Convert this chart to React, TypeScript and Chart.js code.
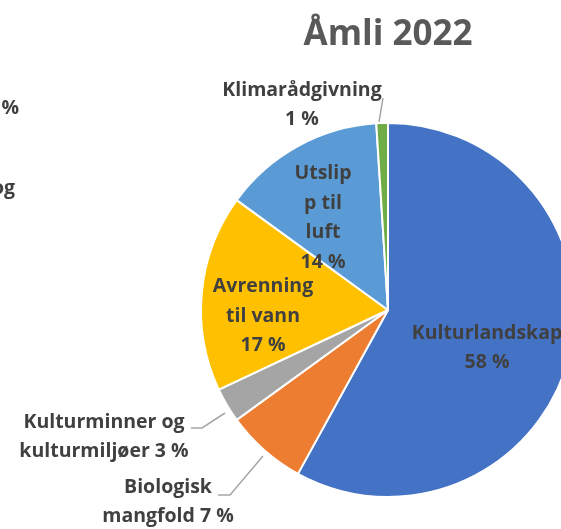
import React, { useEffect, useRef } from "react";
import { Chart, registerables } from "chart.js";

Chart.register(...registerables);

// ---- data ----
const chartTitle = "Åmli 2022";
const categories = [
  "Kulturlandskap",
  "Biologisk mangfold",
  "Kulturminner og kulturmiljøer",
  "Avrenning til vann",
  "Utslipp til luft",
  "Klimarådgivning",
];
const shares = [58, 7, 3, 17, 14, 1];
const sliceColors = ["#4472C4", "#ED7D31", "#A5A5A5", "#FFC000", "#5B9BD5", "#70AD47"];
// label text lines (the percentage is appended to the last line or put on its own line)
const labelText = [
  ["Kulturlandskap"],
  ["Biologisk", "mangfold"],
  ["Kulturminner og", "kulturmiljøer"],
  ["Avrenning", "til vann"],
  ["Utslip", "p til", "luft"],
  ["Klimarådgivning"],
];
const pctOwnLine = [true, false, false, true, true, true];
// fragments of a neighbouring chart, cut by the left edge
const edgeFragments = ["%", "og"];

// ---- layout (reference geometry: centre 388,310, radius 187) ----
const REF = { x: 388, y: 310, r: 187 };
const labelAnchors: [number, number][] = [
  [487, 348],
  [168, 502],
  [104, 437],
  [263, 316],
  [323, 218],
  [302, 105],
];
const leaderPaths: ([number, number][] | null)[] = [
  null,
  [[218, 495], [230, 495], [263, 456]],
  [[191, 428], [202, 428], [225, 413]],
  null,
  null,
  [[383, 98], [379, 122]],
];

const FONT = "'Open Sans', 'Liberation Sans', sans-serif";
const LABEL_COLOR = "#404040";
const LINE_H = 29.5;

const overlayPlugin = {
  id: "overlay",
  afterDraw(chart: any) {
    const ctx = chart.ctx as CanvasRenderingContext2D;
    const arc = chart.getDatasetMeta(0).data[0];
    const { x: cx, y: cy, outerRadius } = arc.getProps(["x", "y", "outerRadius"], true);
    const s = outerRadius / REF.r;
    const map = (p: [number, number]): [number, number] => [
      cx + (p[0] - REF.x) * s,
      cy + (p[1] - REF.y) * s,
    ];
    ctx.save();
    // title
    ctx.fillStyle = "#595959";
    ctx.font = `bold 35px ${FONT}`;
    ctx.textAlign = "center";
    ctx.textBaseline = "alphabetic";
    ctx.fillText(chartTitle, cx, 45);

    // leader lines
    ctx.strokeStyle = "#A6A6A6";
    ctx.lineWidth = 1.5;
    leaderPaths.forEach((path) => {
      if (!path) return;
      ctx.beginPath();
      path.forEach((p, i) => {
        const [px, py] = map(p);
        if (i === 0) ctx.moveTo(px, py);
        else ctx.lineTo(px, py);
      });
      ctx.stroke();
    });

    // labels
    ctx.fillStyle = LABEL_COLOR;
    ctx.font = `bold 19.5px ${FONT}`;
    ctx.textAlign = "center";
    ctx.textBaseline = "middle";
    shares.forEach((v, i) => {
      const lines = [...labelText[i]];
      const pct = `${v} %`;
      if (pctOwnLine[i]) lines.push(pct);
      else lines[lines.length - 1] = lines[lines.length - 1] + " " + pct;
      const [ax, ay] = map(labelAnchors[i]);
      const y0 = ay - ((lines.length - 1) * LINE_H) / 2;
      lines.forEach((ln, k) => ctx.fillText(ln, ax, y0 + k * LINE_H));
    });

    // fragments at the left edge
    ctx.textAlign = "right";
    ctx.textBaseline = "alphabetic";
    ctx.fillText(edgeFragments[0], 19, 114);
    ctx.fillText(edgeFragments[1], 15, 194);
    ctx.restore();
  },
};

export default function App() {
  const ref = useRef<HTMLCanvasElement | null>(null);
  useEffect(() => {
    document.body.style.margin = "0";
    document.body.style.overflow = "hidden";
    const chart = new Chart(ref.current as HTMLCanvasElement, {
      type: "pie",
      data: {
        labels: categories,
        datasets: [
          {
            data: shares,
            backgroundColor: sliceColors,
            borderColor: "#FFFFFF",
            borderWidth: 2,
          },
        ],
      },
      options: {
        responsive: false,
        animation: false,
        layout: { padding: { left: 200, top: 122, right: 224, bottom: 31 } },
        plugins: {
          legend: { display: false },
          title: { display: false },
          tooltip: { enabled: false },
        },
      },
      plugins: [overlayPlugin],
    });
    return () => chart.destroy();
  }, []);
  return (
    <div
      style={{
        position: "absolute",
        left: 0,
        top: 0,
        width: 561,
        height: 529,
        overflow: "hidden",
        background: "#FFFFFF",
      }}
    >
      <canvas ref={ref} width={800} height={529} style={{ width: 800, height: 529, display: "block" }} />
    </div>
  );
}
